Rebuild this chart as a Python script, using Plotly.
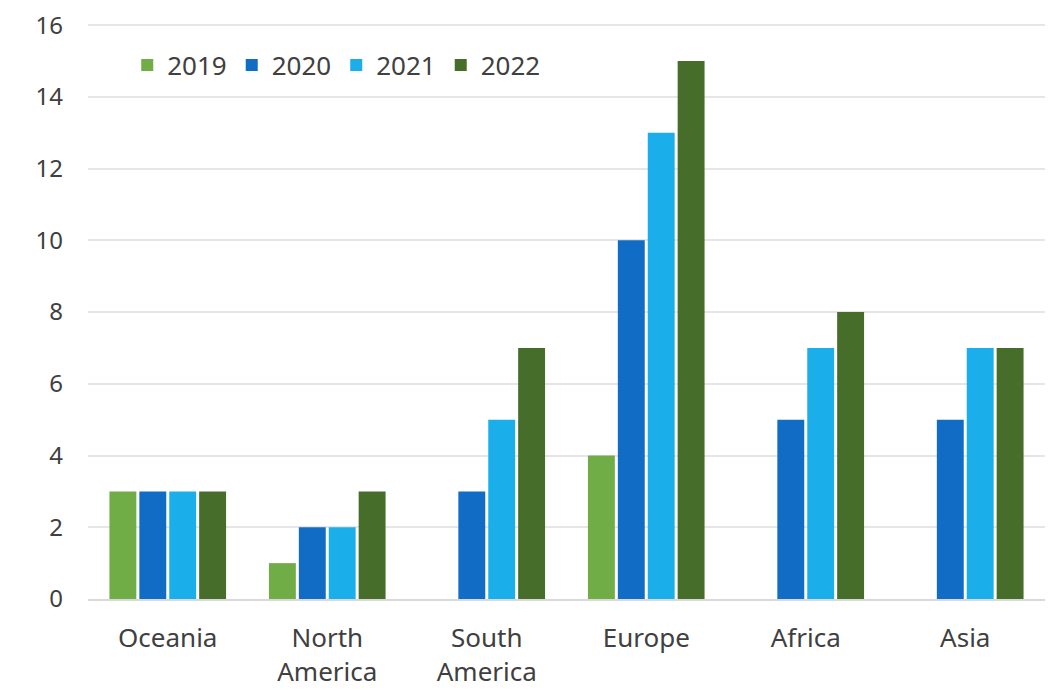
import plotly.graph_objects as go

categories = ["Oceania", "North<br>America", "South<br>America", "Europe", "Africa", "Asia"]
v2019 = [3, 1, 0, 4, 0, 0]
v2020 = [3, 2, 3, 10, 5, 5]
v2021 = [3, 2, 5, 13, 7, 7]
v2022 = [3, 3, 7, 15, 8, 7]
series = [("2019", v2019, "#70AD47"), ("2020", v2020, "#106CC4"),
          ("2021", v2021, "#1AAFEA"), ("2022", v2022, "#466E2A")]

fig = go.Figure()
for name, vals, col in series:
    fig.add_trace(go.Bar(name=name, x=categories, y=vals, marker_color=col,
                         marker_line_width=0))

family = "Noto Sans, Open Sans, sans-serif"
font = dict(family=family, size=26, color="#404040")
yfont = dict(family=family, size=24, color="#404040")
fig.update_layout(
    width=1059, height=699,
    margin=dict(l=80, r=22, t=15, b=108, autoexpand=False),
    plot_bgcolor="white", paper_bgcolor="white",
    barmode="group", bargap=0.25, bargroupgap=0.1,
    font=font,
    showlegend=True,
    legend=dict(orientation="h", x=0.041, y=0.927, xanchor="left", yanchor="middle",
                font=font, bgcolor="rgba(0,0,0,0)", itemwidth=30,
                traceorder="normal", itemsizing="constant"),
    xaxis=dict(showgrid=False, showline=True, linecolor="#D9D9D9", linewidth=1.5,
               tickfont=font, ticks="", automargin=False, ticklabelstandoff=15,
               ticklabeloverflow="allow"),
    yaxis=dict(range=[0, 16.06], tickvals=[0, 2, 4, 6, 8, 10, 12, 14, 16],
               showgrid=True, gridcolor="#E6E6E6",
               gridwidth=1.5, zeroline=False, showline=False, tickfont=yfont,
               ticks="", ticklabelstandoff=24, automargin=False,
               ticklabeloverflow="allow"),
)
fig.write_html("out.html")
